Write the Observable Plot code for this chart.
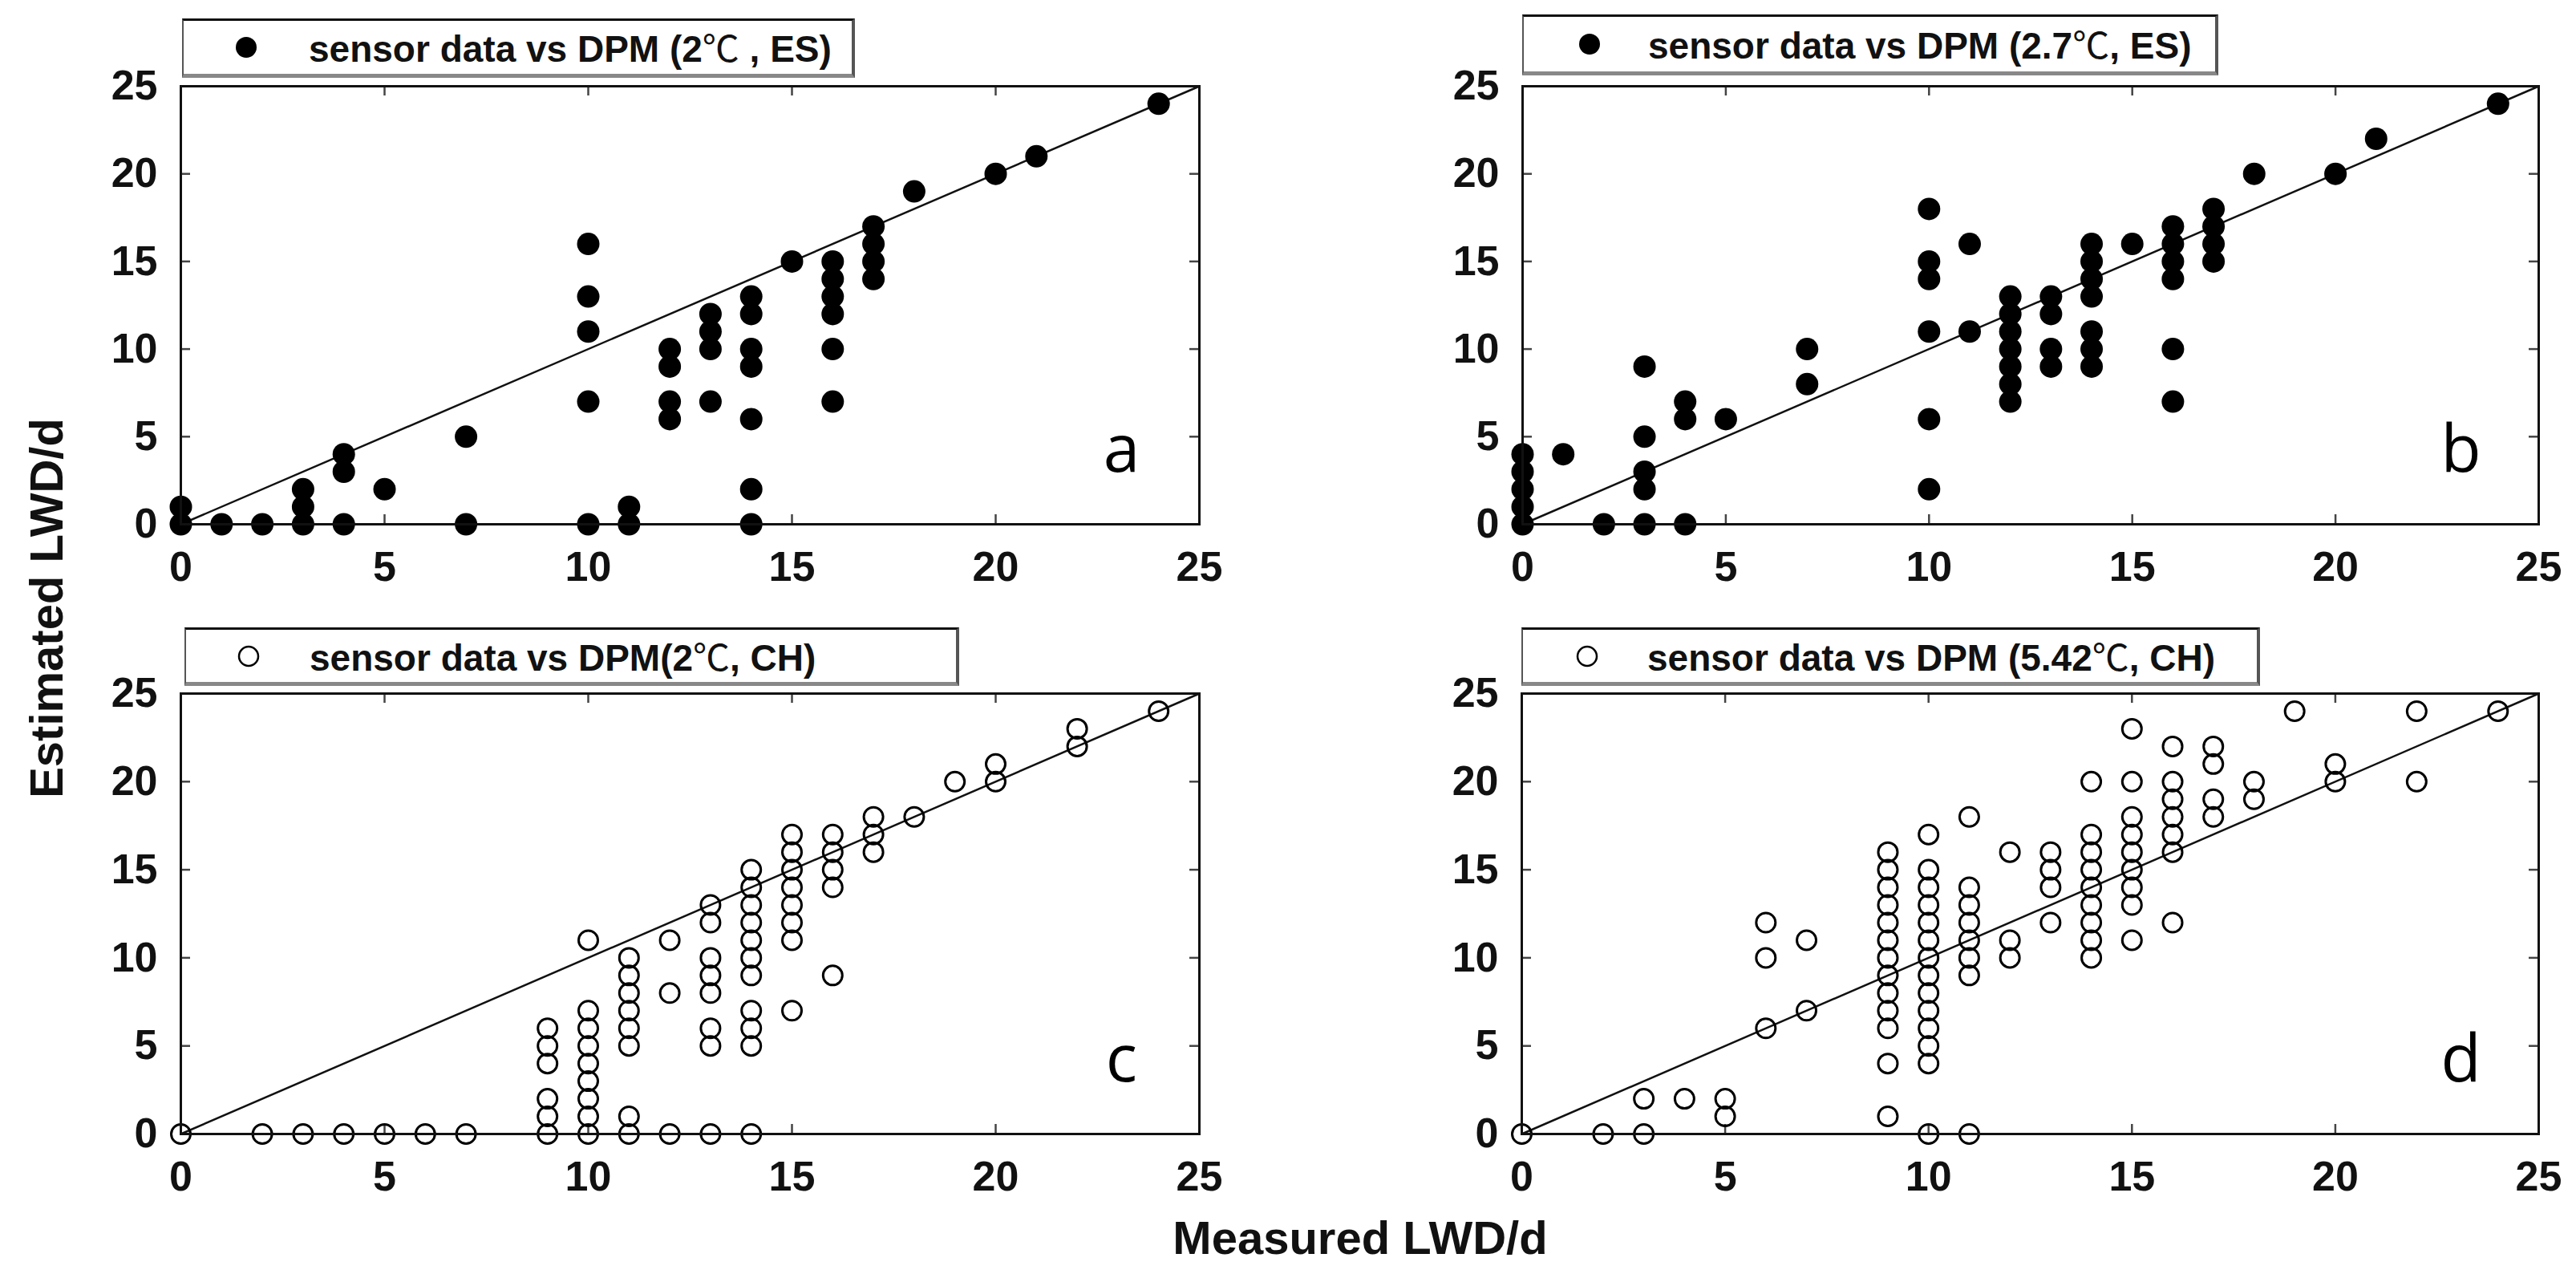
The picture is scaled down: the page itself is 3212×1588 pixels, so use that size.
<!DOCTYPE html>
<html>
<head>
<meta charset="utf-8">
<script src="https://cdn.jsdelivr.net/npm/d3@7"></script>
<script src="https://cdn.jsdelivr.net/npm/@observablehq/plot@0.6"></script>
<style>
  body { margin: 0; background: #fff; }
  #fig { position: relative; width: 3212px; height: 1588px; overflow: hidden; background: #fff;
         font-family: "Liberation Sans", Arial, sans-serif; color: #111; }
  .panel { position: absolute; }
  .legend { position: absolute; box-sizing: border-box; background: #fff;
            border-top: 3px solid #111; border-left: 2px solid #555; border-right: 4px solid #555; border-bottom: 5px solid #888;
            font-weight: bold; font-size: 46px; white-space: nowrap; z-index: 2; }
  .legend svg { position: absolute; top: 50%; transform: translate(-50%, -50%); overflow: visible; }
  .legend span.txt { position: absolute; top: 50%; transform: translateY(-50%); line-height: 1; }
  .deg { font-family: "Noto Sans CJK SC", "DejaVu Sans", sans-serif; font-weight: normal; }
  .title { position: absolute; font-weight: bold; font-size: 58px; line-height: 1; white-space: nowrap; z-index: 3; }
</style>
</head>
<body>
<div id="fig"></div>
<script>
// ---------- data ----------
const axisTicks = [0, 5, 10, 15, 20, 25];
const identityLine = [0, 25];
const panelLetters = ["a", "b", "c", "d"];
const legendLabels = [
  ["sensor data vs DPM (2", "℃", " , ES)"],
  ["sensor data vs DPM (2.7", "℃", ", ES)"],
  ["sensor data vs DPM(2", "℃", ", CH)"],
  ["sensor data vs DPM (5.42", "℃", ", CH)"]
];
const xTitle = "Measured LWD/d";
const yTitle = "Estimated LWD/d";

// panel a: sensor data vs DPM (2℃, ES)
const aMeasured  = [0,0,1,2,3,3,3,4,4,4,5,7,7,10,10,10,10,10,11,11,12,12,12,12,13,13,13,13,14,14,14,14,14,14,14,15,16,16,16,16,16,16,17,17,17,17,18,20,21,24];
const aEstimated = [0,1,0,0,0,1,2,0,3,4,2,0,5,0,7,11,13,16,0,1,6,7,9,10,7,10,11,12,0,2,6,9,10,12,13,15,7,10,12,13,14,15,14,15,16,17,19,20,21,24];

// panel b: sensor data vs DPM (2.7℃, ES)
const bMeasured  = [0,0,0,0,0,1,2,3,3,3,3,3,4,4,4,5,7,7,10,10,10,10,10,10,11,11,12,12,12,12,12,12,12,13,13,13,13,14,14,14,14,14,14,14,15,16,16,16,16,16,16,17,17,17,17,18,20,21,24];
const bEstimated = [0,1,2,3,4,4,0,0,2,3,5,9,0,6,7,6,8,10,2,6,11,14,15,18,11,16,7,8,9,10,11,12,13,9,10,12,13,9,10,11,13,14,15,16,16,7,10,14,15,16,17,15,16,17,18,20,20,22,24];

// panel c: sensor data vs DPM (2℃, CH)
const cMeasured  = [0,2,3,4,5,6,7,9,9,9,9,9,9,10,10,10,10,10,10,10,10,10,11,11,11,11,11,11,11,11,12,12,12,13,13,13,13,13,13,13,13,14,14,14,14,14,14,14,14,14,14,14,15,15,15,15,15,15,15,15,16,16,16,16,16,17,17,17,18,19,20,20,22,22,24];
const cEstimated = [0,0,0,0,0,0,0,0,1,2,4,5,6,0,1,2,3,4,5,6,7,11,0,1,5,6,7,8,9,10,0,8,11,0,5,6,8,9,10,12,13,0,5,6,7,9,10,11,12,13,14,15,7,11,12,13,14,15,16,17,9,14,15,16,17,16,17,18,18,20,20,21,22,23,24];

// panel d: sensor data vs DPM (5.42℃, CH)
const dMeasured  = [0,2,3,3,4,5,5,6,6,6,7,7,9,9,9,9,9,9,9,9,9,9,9,9,9,10,10,10,10,10,10,10,10,10,10,10,10,10,10,11,11,11,11,11,11,11,11,12,12,12,13,13,13,13,14,14,14,14,14,14,14,14,14,15,15,15,15,15,15,15,15,15,16,16,16,16,16,16,16,17,17,17,17,18,18,19,20,20,22,22,24];
const dEstimated = [0,0,0,2,2,1,2,6,10,12,7,11,1,4,6,7,8,9,10,11,12,13,14,15,16,0,4,5,6,7,8,9,10,11,12,13,14,15,17,0,9,10,11,12,13,14,18,10,11,16,12,14,15,16,10,11,12,13,14,15,16,17,20,11,13,14,15,16,17,18,20,23,12,16,17,18,19,20,22,18,19,21,22,19,20,24,20,21,20,24,24];

// ---------- drawing ----------
const fig = document.getElementById("fig");

function makePanel({measured, estimated, filled, letter, left, top, fw, fh}) {
  const mL = 225, mT = 107, mR = 40, mB = 120;
  const rows = measured.map((m, i) => ({m, e: estimated[i]}));
  const tickLen = 12;
  const ink = "#111";
  const plot = Plot.plot({
    width: mL + fw + mR,
    height: mT + fh + mB,
    marginLeft: mL, marginTop: mT, marginRight: mR, marginBottom: mB,
    x: {domain: [0, 25]},
    y: {domain: [0, 25]},
    style: {fontFamily: "'Liberation Sans', Arial, sans-serif", fontWeight: "bold", fontSize: "52px",
            color: ink, background: "transparent", overflow: "visible"},
    marks: [
      Plot.line(identityLine, {x: d => d, y: d => d, stroke: ink, strokeWidth: 2.5}),
      Plot.tickX(axisTicks, {x: d => d, insetTop: fh - tickLen, stroke: "#444", strokeWidth: 2.5}),
      Plot.tickX(axisTicks, {x: d => d, insetBottom: fh - tickLen, stroke: "#444", strokeWidth: 2.5}),
      Plot.tickY(axisTicks, {y: d => d, insetRight: fw - tickLen, stroke: "#444", strokeWidth: 2.5}),
      Plot.tickY(axisTicks, {y: d => d, insetLeft: fw - tickLen, stroke: "#444", strokeWidth: 2.5}),
      Plot.axisX({anchor: "bottom", ticks: axisTicks, tickSize: 0, tickPadding: 34, tickFormat: d => d, label: null}),
      Plot.axisY({anchor: "left", ticks: axisTicks, tickSize: 0, tickPadding: 29, tickFormat: d => d, label: null}),
      filled
        ? Plot.dot(rows, {x: "m", y: "e", r: 14, fill: "#000", stroke: "none"})
        : Plot.dot(rows, {x: "m", y: "e", r: 12, fill: "none", stroke: "#000", strokeWidth: 3}),
      Plot.frame({stroke: ink, strokeWidth: 3}),
      Plot.text([letter], {text: d => d, frameAnchor: "bottom-right", dx: -97, dy: -66,
        textAnchor: "middle", lineAnchor: "bottom", fontSize: 82, fontWeight: "normal",
        fontFamily: "'Open Sans', 'Noto Sans', sans-serif", fill: "#000"})
    ]
  });
  const holder = document.createElement("div");
  holder.className = "panel";
  holder.style.left = (left - mL) + "px";
  holder.style.top = (top - mT) + "px";
  holder.appendChild(plot);
  fig.appendChild(holder);
}

makePanel({measured: aMeasured, estimated: aEstimated, filled: true,  letter: panelLetters[0], left: 225,  top: 107, fw: 1270, fh: 546});
makePanel({measured: bMeasured, estimated: bEstimated, filled: true,  letter: panelLetters[1], left: 1898, top: 107, fw: 1267, fh: 546});
makePanel({measured: cMeasured, estimated: cEstimated, filled: false, letter: panelLetters[2], left: 225,  top: 864, fw: 1270, fh: 549});
makePanel({measured: dMeasured, estimated: dEstimated, filled: false, letter: panelLetters[3], left: 1897, top: 864, fw: 1268, fh: 549});

// legends
const legendBoxes = [
  {left: 227,  top: 23,  width: 839, height: 74, mx: 78, tx: 156, filled: true},
  {left: 1898, top: 18,  width: 868, height: 76, mx: 82, tx: 155, filled: true},
  {left: 230,  top: 782, width: 966, height: 73, mx: 78, tx: 154, filled: false},
  {left: 1897, top: 782, width: 921, height: 73, mx: 80, tx: 155, filled: false}
];
legendBoxes.forEach((b, i) => {
  const box = document.createElement("div");
  box.className = "legend";
  Object.assign(box.style, {left: b.left + "px", top: b.top + "px", width: b.width + "px", height: b.height + "px"});
  const ns = "http://www.w3.org/2000/svg";
  const svg = document.createElementNS(ns, "svg");
  svg.setAttribute("width", 32); svg.setAttribute("height", 32);
  svg.style.left = b.mx + "px";
  const c = document.createElementNS(ns, "circle");
  c.setAttribute("cx", 16); c.setAttribute("cy", 16);
  if (b.filled) { c.setAttribute("r", 13); c.setAttribute("fill", "#000"); }
  else { c.setAttribute("r", 12); c.setAttribute("fill", "none"); c.setAttribute("stroke", "#000"); c.setAttribute("stroke-width", 2.5); }
  svg.appendChild(c);
  box.appendChild(svg);
  const t = document.createElement("span");
  t.className = "txt";
  t.style.left = b.tx + "px";
  const [pre, deg, post] = legendLabels[i];
  t.appendChild(document.createTextNode(pre));
  const s = document.createElement("span"); s.className = "deg"; s.textContent = deg;
  t.appendChild(s);
  t.appendChild(document.createTextNode(post));
  box.appendChild(t);
  fig.appendChild(box);
});

// axis titles
const xt = document.createElement("div");
xt.className = "title"; xt.textContent = xTitle;
Object.assign(xt.style, {left: "1696px", top: "1543px", transform: "translate(-50%, -50%)"});
fig.appendChild(xt);
const yt = document.createElement("div");
yt.className = "title"; yt.textContent = yTitle;
Object.assign(yt.style, {left: "58px", top: "758px", transform: "translate(-50%, -50%) rotate(-90deg)"});
fig.appendChild(yt);
</script>
</body>
</html>
